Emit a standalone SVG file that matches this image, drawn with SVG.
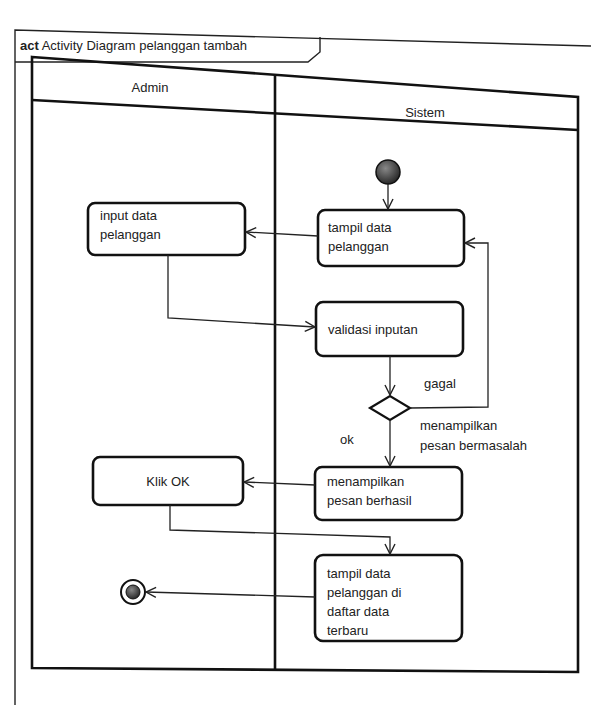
<svg xmlns="http://www.w3.org/2000/svg" width="591" height="705" viewBox="0 0 591 705">
<style>
text{font-family:"Liberation Sans",Arial,sans-serif;font-size:13px;fill:#222}
.act{fill:#fff;stroke:#111;stroke-width:2.6}
.ln{fill:none;stroke:#222;stroke-width:1.3}
.fr{fill:none;stroke:#222;stroke-width:1.4}
.pl{fill:none;stroke:#111;stroke-width:2.6}
</style>
<defs>
<marker id="ar" viewBox="0 0 12 12" refX="11" refY="6" markerWidth="12" markerHeight="12" markerUnits="userSpaceOnUse" orient="auto">
<path d="M1,1 L11,6 L1,11" fill="none" stroke="#222" stroke-width="1.4"/>
</marker>
<radialGradient id="g" cx="0.4" cy="0.35" r="0.7">
<stop offset="0" stop-color="#888"/><stop offset="1" stop-color="#222"/>
</radialGradient>
</defs>
<rect width="591" height="705" fill="#fff"/>
<g id="frame">
<path class="fr" d="M15,705 L15,30 L591,46"/>
<path class="fr" d="M15,62 L308,62 L320,52 L320,37"/>
<text x="20" y="50"><tspan font-weight="bold">act</tspan> Activity Diagram pelanggan tambah</text>
</g>
<g id="pool">
<path class="pl" d="M32,57 L578,97 L578,672 L32,668 Z"/>
<path class="pl" d="M32,100 L578,130"/>
<path class="pl" d="M275,75 L275,670"/>
<text x="150" y="92" text-anchor="middle">Admin</text>
<text x="425" y="117" text-anchor="middle">Sistem</text>
</g>
<g id="start"><circle cx="388" cy="172" r="12" fill="url(#g)" stroke="#111" stroke-width="1.5"/></g>
<g id="tampil"><rect class="act" x="318" y="210" width="146" height="56" rx="7"/>
<text x="328" y="232">tampil data</text><text x="328" y="251">pelanggan</text></g>
<g id="input"><rect class="act" x="88" y="203" width="157" height="52" rx="7"/>
<text x="100" y="220">input data</text><text x="100" y="239">pelanggan</text></g>
<g id="validasi"><rect class="act" x="316" y="302" width="147" height="54" rx="7"/>
<text x="328" y="334">validasi inputan</text></g>
<g id="decision"><polygon points="370,408 390,396 410,408 390,420" fill="#fff" stroke="#111" stroke-width="2.2"/></g>
<g id="berhasil"><rect class="act" x="315" y="467" width="147" height="53" rx="7"/>
<text x="327" y="486">menampilkan</text><text x="327" y="505">pesan berhasil</text></g>
<g id="klik"><rect class="act" x="93" y="457" width="150" height="48" rx="7"/>
<text x="168" y="486" text-anchor="middle">Klik OK</text></g>
<g id="terbaru"><rect class="act" x="315" y="555" width="147" height="86" rx="8"/>
<text x="327" y="578">tampil data</text><text x="327" y="597">pelanggan di</text><text x="327" y="616">daftar data</text><text x="327" y="635">terbaru</text></g>
<g id="end"><circle cx="133" cy="592" r="12" fill="#fff" stroke="#111" stroke-width="2"/><circle cx="133" cy="592" r="7" fill="url(#g)" stroke="#111" stroke-width="1"/></g>
<g id="connectors">
<path class="ln" d="M388,184 L388,209" marker-end="url(#ar)"/>
<path class="ln" d="M318,236 L246,232" marker-end="url(#ar)"/>
<path class="ln" d="M168,255 L168,318 L315,327" marker-end="url(#ar)"/>
<path class="ln" d="M390,356 L390,395" marker-end="url(#ar)"/>
<path class="ln" d="M410,408 L488,407 L488,243 L465,243" marker-end="url(#ar)"/>
<path class="ln" d="M390,420 L390,466" marker-end="url(#ar)"/>
<path class="ln" d="M315,485 L244,482" marker-end="url(#ar)"/>
<path class="ln" d="M170,505 L170,530 L390,537 L390,554" marker-end="url(#ar)"/>
<path class="ln" d="M315,597 L146,592" marker-end="url(#ar)"/>
<text x="424" y="388">gagal</text>
<text x="420" y="430">menampilkan</text>
<text x="420" y="450">pesan bermasalah</text>
<text x="340" y="444">ok</text>
</g>
</svg>
